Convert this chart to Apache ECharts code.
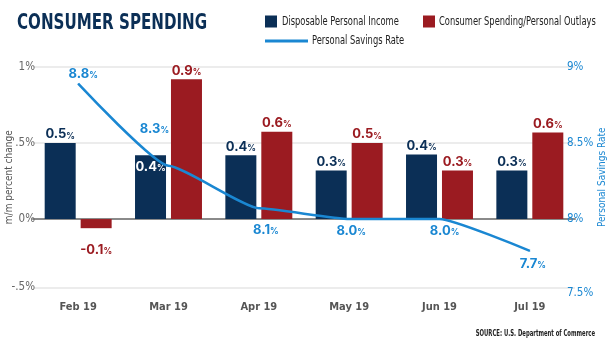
<!DOCTYPE html>
<html>
<head>
<meta charset="utf-8">
<style>
  html, body { margin: 0; padding: 0; background: #ffffff; }
  #chart { width: 610px; height: 347px; }
</style>
<script src="https://cdn.jsdelivr.net/npm/echarts@6/dist/echarts.min.js"></script>
</head>
<body>
<div id="chart"></div>
<script>
// ---- data ----
var categories = ['Feb 19', 'Mar 19', 'Apr 19', 'May 19', 'Jun 19', 'Jul 19'];
var incomeValues = [0.50, 0.42, 0.42, 0.32, 0.425, 0.32];
var spendingValues = [-0.06, 0.92, 0.575, 0.50, 0.32, 0.57];
var savingsValues = [8.89, 8.35, 8.07, 8.0, 8.0, 7.79];
var incomeLabels = ['0.5', '0.4', '0.4', '0.3', '0.4', '0.3'];
var spendingLabels = ['-0.1', '0.9', '0.6', '0.5', '0.3', '0.6'];
var savingsLabels = ['8.8', '8.3', '8.1', '8.0', '8.0', '7.7'];
var leftTickLabels = {'-0.5': '-.5%', '0': '0%', '0.5': '.5%', '1': '1%'};
var rightTickLabels = {'7.5': '7.5%', '8': '8%', '8.5': '8.5%', '9': '9%'};
var seriesNames = ['Disposable Personal Income', 'Consumer Spending/Personal Outlays', 'Personal Savings Rate'];
var titleText = 'CONSUMER SPENDING';
var sourceText = 'SOURCE: U.S. Department of Commerce';

var NAVY = '#0b2f56', RED = '#9b1b21', BLUE = '#1a87d2';
var COND = "'DejaVu Sans Condensed', 'DejaVu Sans', sans-serif";
var NUM = "Inter, 'Open Sans', sans-serif";

function richFor(color) {
  return {
    n: { fontFamily: NUM, fontSize: 13, fontWeight: 'bold', color: color },
    p: { fontFamily: NUM, fontSize: 8.5, fontWeight: 'bold', color: color, padding: [3, 0, 0, 0] }
  };
}
function roundHalf(v) { return String(Math.round(v * 2) / 2); }

var incomeData = incomeValues.map(function (v, i) {
  var d = { value: v };
  if (i === 1) {
    d.label = { position: 'insideTop', distance: 5, rich: richFor('#ffffff') };
  }
  return d;
});
var spendingData = spendingValues.map(function (v) {
  var d = { value: v };
  if (v < 0) d.label = { position: 'bottom', distance: 15 };
  return d;
});
var savingsLabelCfg = [
  { position: 'top', distance: 3, offset: [5, 0] },
  { position: 'top', distance: 5, offset: [-14, -25] },
  { position: 'bottom', distance: 15, offset: [7, 0] },
  { position: 'bottom', distance: 5, offset: [2, 0] },
  { position: 'bottom', distance: 5, offset: [5, 0] },
  { position: 'bottom', distance: 6, offset: [3, 0] }
];
var savingsData = savingsValues.map(function (v, i) {
  return { value: v, label: savingsLabelCfg[i] };
});

function scaledText(x, y, text, size, weight, color, sx, align) {
  return {
    type: 'text', x: x, y: y, scaleX: sx, silent: true,
    style: { x: 0, y: 0, text: text, fontFamily: COND, fontSize: size, fontWeight: weight,
             fill: color, align: align || 'left', verticalAlign: 'middle' }
  };
}

var chart = echarts.init(document.getElementById('chart'), null, { renderer: 'canvas' });
chart.setOption({
  animation: false,
  backgroundColor: '#ffffff',
  legend: { show: false, data: seriesNames },
  graphic: [
    scaledText(17, 23.5, titleText, 21, 'bold', NAVY, 0.8),
    { type: 'rect', shape: { x: 265, y: 15.5, width: 12, height: 12 }, style: { fill: NAVY }, silent: true },
    scaledText(282, 21.5, seriesNames[0], 12.5, 'normal', '#222', 0.74),
    { type: 'rect', shape: { x: 423, y: 15.5, width: 12, height: 12 }, style: { fill: RED }, silent: true },
    scaledText(439, 21.5, seriesNames[1], 12.5, 'normal', '#222', 0.74),
    { type: 'rect', shape: { x: 265, y: 39.5, width: 43, height: 3 }, style: { fill: BLUE }, silent: true },
    scaledText(312, 41, seriesNames[2], 12.5, 'normal', '#222', 0.74),
    scaledText(595, 334, sourceText, 9.5, 'bold', '#222', 0.62, 'right')
  ],
  grid: { left: 33, right: 35, top: 67, height: 220.5, containLabel: false, outerBoundsMode: 'none' },
  xAxis: [
    {
      type: 'category', data: categories, position: 'bottom',
      axisLine: { show: false, onZero: false }, axisTick: { show: false },
      axisLabel: { fontFamily: COND, fontSize: 11, fontWeight: 'bold', color: '#555', margin: 14 }
    },
    {
      type: 'category', data: categories, position: 'top',
      axisLine: { show: true, onZero: true, lineStyle: { color: '#8a8a8a', width: 2 } },
      axisTick: { show: false }, axisLabel: { show: false }
    }
  ],
  yAxis: [
    {
      type: 'value', min: -0.45, max: 1, splitNumber: 3, position: 'left', offset: -4,
      name: 'm/m percent change', nameLocation: 'middle', nameGap: 23, nameMoveOverlap: false,
      nameTextStyle: { fontFamily: COND, fontSize: 10, color: '#555' },
      axisLine: { show: false }, axisTick: { show: false },
      axisLabel: {
        fontFamily: COND, fontSize: 11.5, color: '#666', margin: 2,
        formatter: function (v) { return leftTickLabels[roundHalf(v)] || ''; }
      },
      splitLine: { show: true, lineStyle: { color: '#e6e6e6', width: 1.5 } }
    },
    {
      type: 'value', min: 7.549, max: 9, splitNumber: 3, position: 'right', offset: -10,
      name: 'Personal Savings Rate', nameLocation: 'middle', nameGap: 32, nameRotate: 90, nameMoveOverlap: false,
      nameTextStyle: { fontFamily: COND, fontSize: 10, color: BLUE },
      axisLine: { show: false }, axisTick: { show: false },
      axisLabel: {
        fontFamily: COND, fontSize: 11.5, color: BLUE, margin: 2,
        formatter: function (v) {
          var t = rightTickLabels[roundHalf(v)] || '';
          return v < 7.75 ? '{low|' + t + '}' : t;
        },
        rich: { low: { fontFamily: COND, fontSize: 11.5, color: BLUE, padding: [12, 0, 0, 0] } }
      },
      splitLine: { show: false }
    }
  ],
  series: [
    {
      name: seriesNames[0], type: 'bar', xAxisIndex: 0, yAxisIndex: 0,
      data: incomeData, barWidth: 31, barGap: '16%',
      itemStyle: { color: NAVY },
      label: {
        show: true, position: 'top', distance: 2, rich: richFor(NAVY),
        formatter: function (p) { return '{n|' + incomeLabels[p.dataIndex] + '}{p|%}'; }
      }
    },
    {
      name: seriesNames[1], type: 'bar', xAxisIndex: 0, yAxisIndex: 0,
      data: spendingData, barWidth: 31, barGap: '16%',
      itemStyle: { color: RED },
      label: {
        show: true, position: 'top', distance: 2, rich: richFor(RED),
        formatter: function (p) { return '{n|' + spendingLabels[p.dataIndex] + '}{p|%}'; }
      }
    },
    {
      name: seriesNames[2], type: 'line', xAxisIndex: 0, yAxisIndex: 1,
      data: savingsData, smooth: 0.15, smoothMonotone: 'x',
      showSymbol: true, symbol: 'circle', symbolSize: 1, z: 5,
      lineStyle: { color: BLUE, width: 2.5 }, itemStyle: { color: BLUE },
      label: {
        show: true, rich: richFor(BLUE),
        formatter: function (p) { return '{n|' + savingsLabels[p.dataIndex] + '}{p|%}'; }
      }
    }
  ]
});
</script>
</body>
</html>
